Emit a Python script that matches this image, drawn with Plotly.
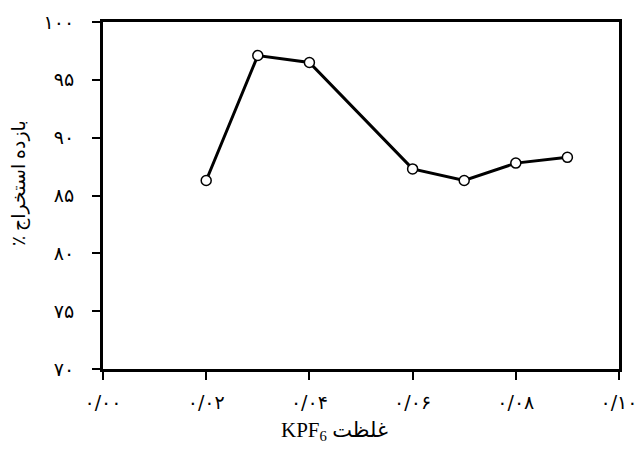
import plotly.graph_objects as go

kpf6_conc = [0.02, 0.03, 0.04, 0.06, 0.07, 0.08, 0.09]
extraction = [86.3, 97.1, 96.5, 87.3, 86.3, 87.8, 88.3]

x_tickvals = [0.00, 0.02, 0.04, 0.06, 0.08, 0.10]
x_ticktext = ["۰/۰۰", "۰/۰۲", "۰/۰۴", "۰/۰۶", "۰/۰۸", "۰/۱۰"]
y_tickvals = [70, 75, 80, 85, 90, 95, 100]
y_ticktext = ["۷۰", "۷۵", "۸۰", "۸۵", "۹۰", "۹۵", "۱۰۰"]

x_title = "KPF<sub>6</sub> غلظت"
y_title = "بازده استخراج ٪\u200f"

font_family = "Liberation Serif, DejaVu Sans, serif"
tick_font = dict(family="DejaVu Sans", size=19, color="black")

fig = go.Figure(
    go.Scatter(
        x=kpf6_conc,
        y=extraction,
        mode="lines+markers",
        line=dict(color="black", width=3),
        marker=dict(size=10, color="white", line=dict(color="black", width=1.5)),
        showlegend=False,
    )
)

fig.update_layout(
    width=642,
    height=450,
    margin=dict(l=103, r=23, t=22, b=81, autoexpand=False),
    paper_bgcolor="white",
    plot_bgcolor="white",
    font=dict(family=font_family, size=18, color="black"),
    annotations=[
        dict(
            text=x_title, xref="paper", yref="paper",
            x=0.448, y=-0.18, xanchor="center", yanchor="middle",
            showarrow=False, font=dict(size=21),
        ),
        dict(
            text=y_title, xref="paper", yref="paper",
            x=-0.163, y=0.536, xanchor="center", yanchor="middle",
            textangle=-90, showarrow=False, font=dict(size=19),
        ),
    ],
)

fig.update_xaxes(
    range=[0, 0.1],
    tickvals=x_tickvals,
    ticktext=x_ticktext,
    tickfont=tick_font,
    automargin=False,
    showgrid=False,
    zeroline=False,
    showline=True,
    linecolor="black",
    linewidth=3,
    mirror=True,
    ticks="outside",
    ticklen=8,
    tickwidth=2,
    tickcolor="black",
    ticklabelstandoff=6,
)
fig.update_yaxes(
    range=[70, 100],
    tickvals=y_tickvals,
    ticktext=y_ticktext,
    tickfont=tick_font,
    automargin=False,
    showgrid=False,
    zeroline=False,
    showline=True,
    linecolor="black",
    linewidth=3,
    mirror=True,
    ticks="outside",
    ticklen=8,
    tickwidth=2,
    tickcolor="black",
    ticklabelstandoff=14,
)

fig.write_html("out.html")
